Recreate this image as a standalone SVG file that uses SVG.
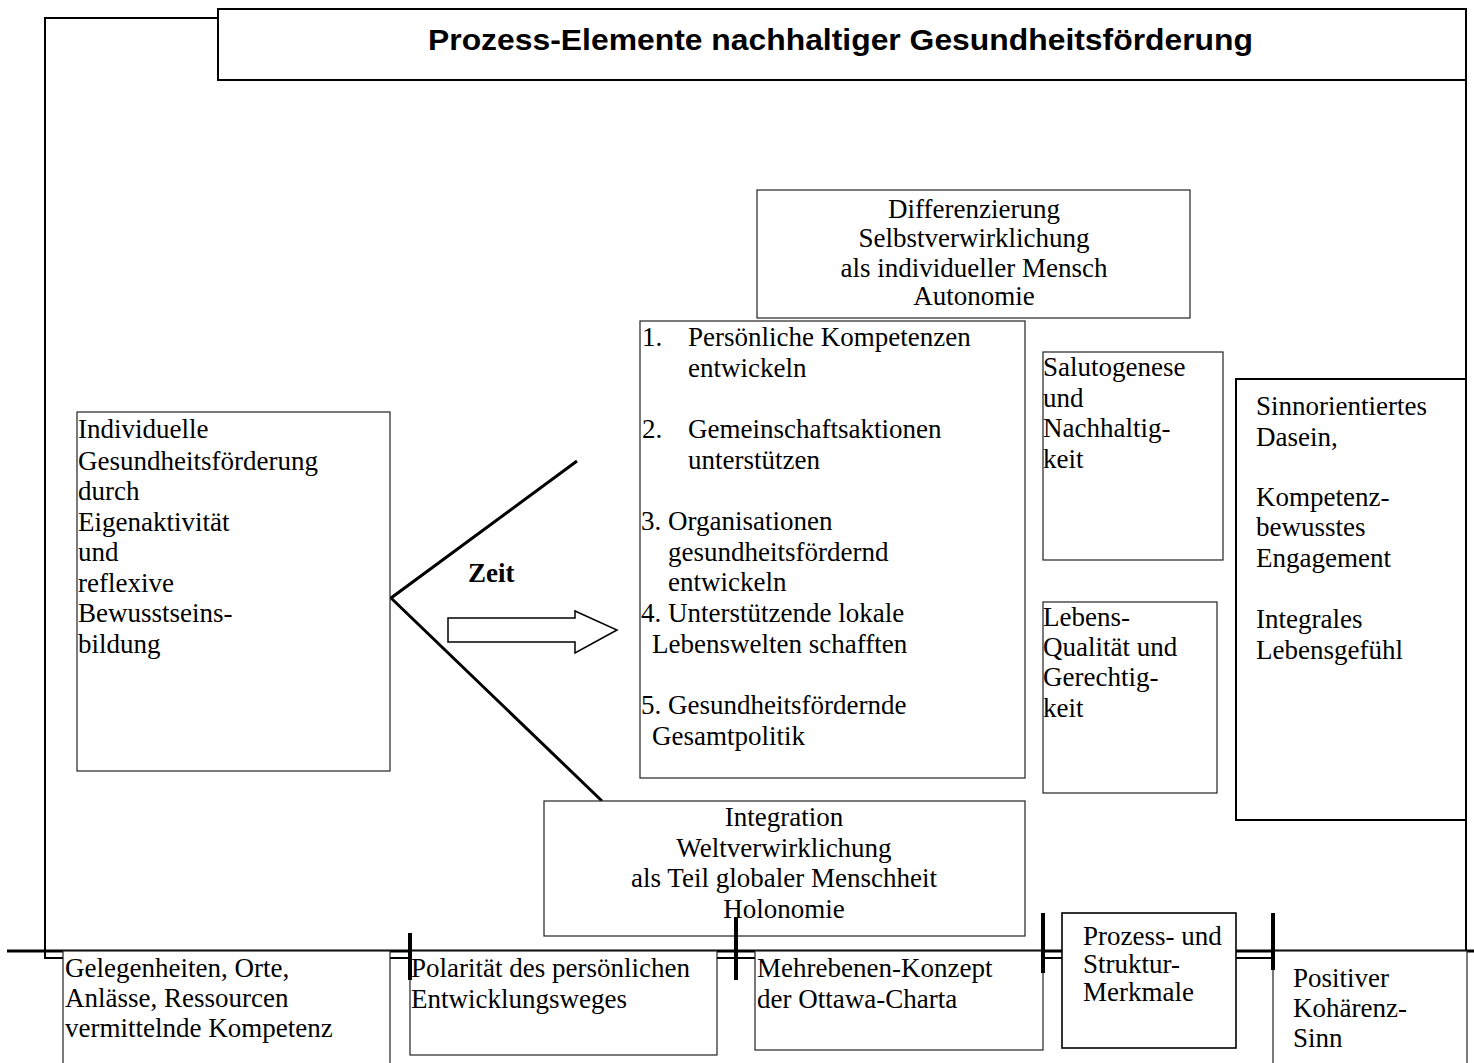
<svg xmlns="http://www.w3.org/2000/svg" width="1474" height="1063" viewBox="0 0 1474 1063">
<style>
.t{font-family:"Liberation Serif","Times New Roman",serif;font-size:27px;fill:#000}
.c{text-anchor:middle}
.box{fill:#fff;stroke:#222;stroke-width:1.2}
.bold{fill:#fff;stroke:#000;stroke-width:2}
.ln{stroke:#000;stroke-width:3;fill:none}
.tick{stroke:#000;stroke-width:4}
</style>
<rect width="1474" height="1063" fill="#fff"/>
<g id="frame">
<rect x="45" y="18" width="1421" height="940" fill="none" stroke="#000" stroke-width="2"/>
</g>
<g id="title">
<rect x="218" y="9" width="1248" height="71" class="bold"/>
<text x="428" y="50" font-family="'Liberation Sans',Arial,sans-serif" font-weight="bold" font-size="30" textLength="825" lengthAdjust="spacingAndGlyphs">Prozess-Elemente nachhaltiger Gesundheitsförderung</text>
</g>
<g id="connectors">
<line x1="7" y1="951" x2="1474" y2="951" stroke="#000" stroke-width="3"/>
<polyline points="577,461 391,598 602,801" class="ln"/>
<polygon points="448,618 575,618 575,611 617,630 575,653 575,642 448,642" fill="#fff" stroke="#000" stroke-width="1.5"/>
<text x="468" y="582" class="t" font-weight="bold">Zeit</text>
</g>
<g id="differenzierung">
<rect x="757" y="190" width="433" height="128" class="box"/>
<text class="t c"><tspan x="974" y="218">Differenzierung</tspan><tspan x="974" y="247">Selbstverwirklichung</tspan><tspan x="974" y="277">als individueller Mensch</tspan><tspan x="974" y="305">Autonomie</tspan></text>
</g>
<g id="ottawa-liste">
<rect x="640" y="321" width="385" height="457" class="box"/>
<text class="t">
<tspan x="642" y="346">1.</tspan><tspan x="688" y="346">Persönliche Kompetenzen</tspan>
<tspan x="688" y="377">entwickeln</tspan>
<tspan x="642" y="438">2.</tspan><tspan x="688" y="438">Gemeinschaftsaktionen</tspan>
<tspan x="688" y="469">unterstützen</tspan>
<tspan x="641" y="530">3. Organisationen</tspan>
<tspan x="668" y="561">gesundheitsfördernd</tspan>
<tspan x="668" y="591">entwickeln</tspan>
<tspan x="641" y="622">4. Unterstützende lokale</tspan>
<tspan x="652" y="653">Lebenswelten schafften</tspan>
<tspan x="641" y="714">5. Gesundheitsfördernde</tspan>
<tspan x="652" y="745">Gesamtpolitik</tspan>
</text>
</g>
<g id="individuelle">
<rect x="77" y="412" width="313" height="359" class="box"/>
<text class="t"><tspan x="78" y="438">Individuelle</tspan><tspan x="78" y="470">Gesundheitsförderung</tspan><tspan x="78" y="500">durch</tspan><tspan x="78" y="531">Eigenaktivität</tspan><tspan x="78" y="561">und</tspan><tspan x="78" y="592">reflexive</tspan><tspan x="78" y="622">Bewusstseins-</tspan><tspan x="78" y="653">bildung</tspan></text>
</g>
<g id="integration">
<rect x="544" y="801" width="481" height="135" class="box"/>
<text class="t c"><tspan x="784" y="826">Integration</tspan><tspan x="784" y="857">Weltverwirklichung</tspan><tspan x="784" y="887">als Teil globaler Menschheit</tspan><tspan x="784" y="918">Holonomie</tspan></text>
</g>
<g id="salutogenese">
<rect x="1043" y="352" width="180" height="208" class="box"/>
<text class="t"><tspan x="1043" y="376">Salutogenese</tspan><tspan x="1043" y="407">und</tspan><tspan x="1043" y="437">Nachhaltig-</tspan><tspan x="1043" y="468">keit</tspan></text>
</g>
<g id="lebensqualitaet">
<rect x="1043" y="602" width="174" height="191" class="box"/>
<text class="t"><tspan x="1043" y="626">Lebens-</tspan><tspan x="1043" y="656">Qualität und</tspan><tspan x="1043" y="686">Gerechtig-</tspan><tspan x="1043" y="717">keit</tspan></text>
</g>
<g id="sinnorientiert">
<rect x="1236" y="379" width="230" height="441" class="bold"/>
<text class="t"><tspan x="1256" y="415">Sinnorientiertes</tspan><tspan x="1256" y="446">Dasein,</tspan><tspan x="1256" y="506">Kompetenz-</tspan><tspan x="1256" y="536">bewusstes</tspan><tspan x="1256" y="567">Engagement</tspan><tspan x="1256" y="628">Integrales</tspan><tspan x="1256" y="659">Lebensgefühl</tspan></text>
</g>
<g id="gelegenheiten">
<rect x="63" y="951" width="327" height="120" class="box"/>
<text class="t"><tspan x="65" y="977">Gelegenheiten, Orte,</tspan><tspan x="65" y="1007">Anlässe, Ressourcen</tspan><tspan x="65" y="1037">vermittelnde  Kompetenz</tspan></text>
</g>
<g id="polaritaet">
<rect x="410" y="951" width="307" height="104" class="box"/>
<text class="t"><tspan x="411" y="977">Polarität des persönlichen</tspan><tspan x="411" y="1008">Entwicklungsweges</tspan></text>
</g>
<g id="mehrebenen">
<rect x="755" y="951" width="288" height="99" class="box"/>
<text class="t"><tspan x="757" y="977">Mehrebenen-Konzept</tspan><tspan x="757" y="1008">der Ottawa-Charta</tspan></text>
</g>
<g id="prozess-struktur">
<rect x="1062" y="913" width="174" height="135" fill="#fff" stroke="#000" stroke-width="1.6"/>
<text class="t" font-size="23"><tspan x="1083" y="945">Prozess- und</tspan><tspan x="1083" y="973">Struktur-</tspan><tspan x="1083" y="1001">Merkmale</tspan></text>
</g>
<g id="koherenz">
<rect x="1273" y="951" width="194" height="120" class="box"/>
<text class="t"><tspan x="1293" y="987">Positiver</tspan><tspan x="1293" y="1017">Kohärenz-</tspan><tspan x="1293" y="1047">Sinn</tspan></text>
</g>
<g id="ticks">
<line x1="410" y1="933" x2="410" y2="980" class="tick"/>
<line x1="736" y1="917" x2="736" y2="980" class="tick"/>
<line x1="1043" y1="913" x2="1043" y2="973" class="tick"/>
<line x1="1273" y1="913" x2="1273" y2="970" class="tick"/>
</g>
</svg>
